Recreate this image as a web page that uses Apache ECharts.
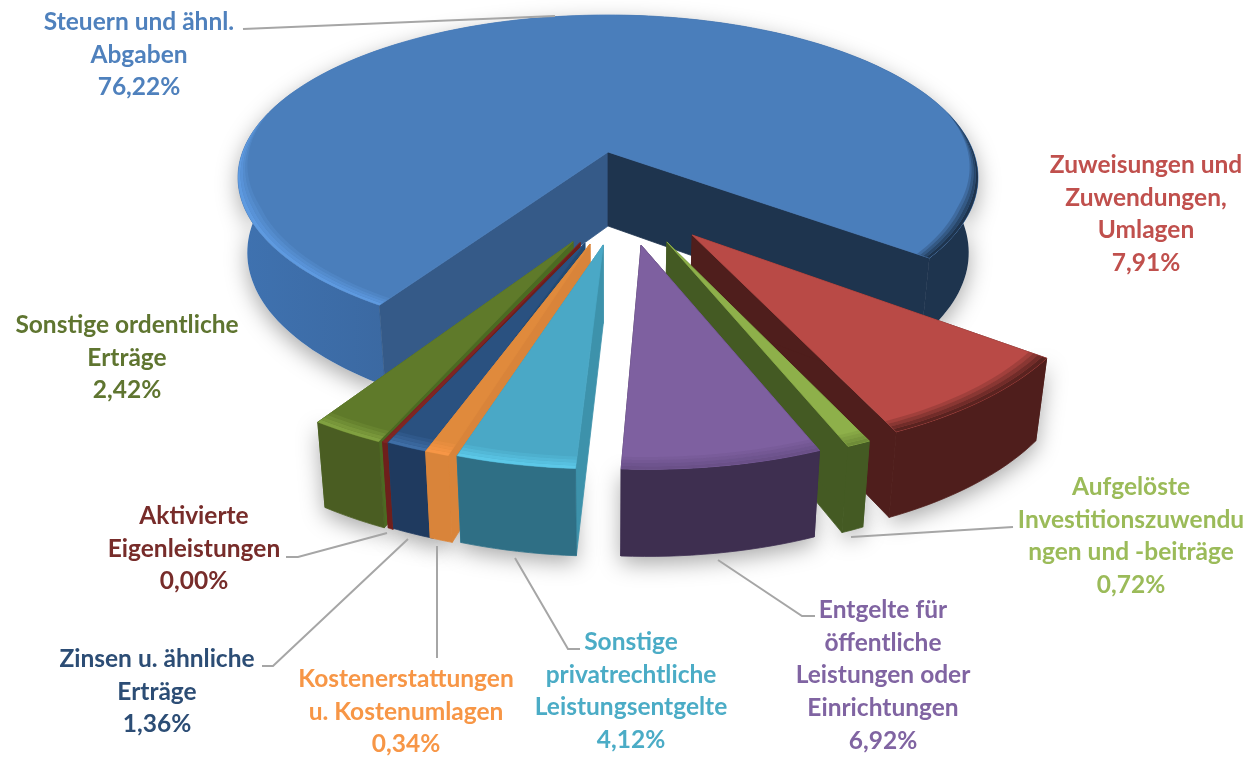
<!DOCTYPE html>
<html><head><meta charset="utf-8">
<style>html,body{margin:0;padding:0;background:#fff}#c{width:1260px;height:758px}</style>
<script src="https://cdn.jsdelivr.net/npm/echarts@6/dist/echarts.min.js"></script>
</head><body><div id="c"></div>
<script>
// ---- data ----
const categories = ["Steuern und ähnl.\nAbgaben","Zuweisungen und\nZuwendungen,\nUmlagen","Aufgelöste\nInvestitionszuwendu\nngen und -beiträge","Entgelte für\nöffentliche\nLeistungen oder\nEinrichtungen","Sonstige\nprivatrechtliche\nLeistungsentgelte","Kostenerstattungen\nu. Kostenumlagen","Zinsen u. ähnliche\nErträge","Aktivierte\nEigenleistungen","Sonstige ordentliche\nErträge"];
const values = [76.22,7.91,0.72,6.92,4.12,0.34,1.36,0.00,2.42];
// ---- styling and layout ----
const topColors  = ["#4a7ebb","#b94a46","#8eb04a","#7e60a0","#4aa8c6","#e08a3c","#2a5180","#7f2623","#5f7a2a"];
const wallColors = ["#3e70ad","#4f1e1c","#445a23","#3e2f50","#2f6f85","#d9843a","#1f3a5f","#6e1f1c","#4a5d22"];
const sideColors = ["#355a88","#4f1e1c","#445a23","#3e2f50","#3d92ab","#d9843a","#234a73","#6e1f1c","#4c6a22"];
const rimColors  = ["#5e9ae0","#5a2320","#6f8c38","#6a5088","#5cc8e8","#f79646","#3f6ea6","#7f2623","#80a040"];
const labelColors= ["#4f81bd","#c0504d","#9bbb59","#8064a2","#4bacc6","#f79646","#2c4d75","#772c2a","#5f7530"];
const explodeU = [0,.213,.148,.083,-.012,-.045,-.058,-.07,-.088];
const explodeV = [0,.484,.521,.538,.537,.532,.527,.525,.52];
const minSpanDeg = [0,0,3,0,0,3,5.6,.7,9.2];
const radius = [1,.985,.985,.985,.985,.985,.985,.985,.985];
const drawOrder = [0,1,2,3,8,7,6,5,4];
const labelX = [139,1146,1131,883,631,406,157,194,127];
const labelY = [6,149,471,594,626,663,643,500,309];
const leaders = [
 [[243,29],[555,16]],
 [[851,537],[1013,527]],
 [[718,560],[802,616],[815,616]],
 [[515,558],[568,649],[580,649]],
 [[437,546],[437,658]],
 [[408,539],[273,666],[262,666]],
 [[387,533],[298,557],[286,557]]
];
const startDeg = 122.9;
const CX=608, CY=152, A=365.4, B=158.5, K=.157, D=74, SHRINK=.025;

function project(u,v,h){
  const s=1/(1-K*v);
  return [CX+A*u*s*(1-SHRINK*h), CY+B*v*s+D*h*Math.pow(s,.6)];
}
const rad=d=>d*Math.PI/180;
function arc(i,a0,a1,r,h,rf){
  const pts=[],n=Math.max(4,Math.ceil(Math.abs(a1-a0)/1.5));
  for(let j=0;j<=n;j++){
    const f=j/n,t=rad(a0+(a1-a0)*f),rr=rf?rf(a0+(a1-a0)*f):r;
    pts.push(project(explodeU[i]+rr*Math.cos(t),explodeV[i]+rr*Math.sin(t),h));
  }
  return pts;
}
const total=values.reduce((a,b)=>a+b,0);
const angles=[];
(function(){let c=startDeg;values.forEach((v,i)=>{const sp=v/total*360;const m=Math.max(sp,minSpanDeg[i]);const mid=c+sp/2;angles.push([mid-m/2,mid+m/2]);c+=sp;});})();

function poly(points,fill,extra,noStroke){
  const st=Object.assign({fill:fill,lineJoin:'round'},noStroke?{stroke:null}:{stroke:fill,lineWidth:.8},extra||{});
  return {type:'polygon',shape:{points:points},style:st,silent:true};
}
function hGrad(x0,x1,stops){
  return {type:'linear',x:x0,y:0,x2:x1,y2:0,global:true,colorStops:stops};
}
function wallPoly(i,a0,a1){
  const r=radius[i];
  return arc(i,a0,a1,r,0).concat(arc(i,a1,a0,r,1));
}
// soft bevel along the outer edge; wf(angle) gives the local width factor
function rim(i,a0,a1,color,w,wf){
  const out=[],r=radius[i];
  const wid=wf||function(){return 1;};
  [[1,.75,.25],[.75,.5,.5],[.5,.25,.75],[.25,0,1]].forEach(function(b){
    const inner=function(a){return r-w*b[0]*wid(a);},outer=function(a){return r-w*b[1]*wid(a);};
    out.push(poly(arc(i,a0,a1,r,0,inner).concat(arc(i,a1,a0,r,0,outer)),color,{opacity:b[2]},true));
  });
  return out;
}
function renderSlice(params,api){
  const i=api.value(0);
  const a0=angles[i][0],a1=angles[i][1],r=radius[i];
  const kids=[];
  const apex=project(explodeU[i],explodeV[i],0),apexB=project(explodeU[i],explodeV[i],1);
  const c0=arc(i,a0,a0,r,0)[0],c0B=arc(i,a0,a0,r,1)[0];
  const c1=arc(i,a1,a1,r,0)[0],c1B=arc(i,a1,a1,r,1)[0];
  if(i===0){
    kids.push(poly(wallPoly(0,a0,a1),hGrad(CX-370,CX+370,[
      {offset:0,color:'#3f72b0'},{offset:.2,color:'#3b69a2'},{offset:.5,color:'#2b4f78'},{offset:.58,color:'#1e344e'},{offset:1,color:'#1e344e'}]),{stroke:null}));
    kids.push(poly([apex,c0,c0B,apexB],'#355a88'));
    kids.push(poly([apex,c1,c1B,apexB],'#1e344e'));
  }else{
    const wall=wallColors[i];
    kids.push(poly([apex,c1,c1B,apexB],sideColors[i]));
    kids.push(poly([apex,c0,c0B,apexB],sideColors[i]));
    kids.push(poly(wallPoly(i,a0,a1),wall));
  }
  kids.push(poly([apex].concat(arc(i,a0,a1,r,0)),topColors[i]));
  if(i===0){
    rim(0,a0,195,rimColors[0],.04,function(a){return Math.min(1,(195-a)/35);}).forEach(function(e){kids.push(e);});
    rim(0,345,a1,'#1e344e',.035,function(a){return Math.min(1,(a-345)/35);}).forEach(function(e){kids.push(e);});
  }else{
    rim(i,a0,a1,rimColors[i],.045).forEach(function(e){kids.push(e);});
  }
  return {type:'group',children:kids};
}
function renderShadow(params,api){
  const i=api.value(0);
  return poly(wallPoly(i,angles[i][0],angles[i][1]),'#ffffff',{stroke:null,shadowBlur:22,shadowColor:'rgba(0,0,0,.34)',shadowOffsetX:0,shadowOffsetY:7});
}
function fmt(v){return v.toFixed(2).replace('.',',')+'%';}
const sliceData=drawOrder.map(function(i){return [i,values[i]];});
const graphics=[];
leaders.forEach(function(l){
  graphics.push({type:'polyline',z:5,shape:{points:l},style:{stroke:'#a6a6a6',lineWidth:2,fill:null},silent:true});
});
categories.forEach(function(n,i){
  graphics.push({type:'text',z:6,x:labelX[i],y:labelY[i],style:{text:n+"\n"+fmt(values[i]),fill:labelColors[i],font:'bold 24.5px Lato',textAlign:'center',textVerticalAlign:'top',lineHeight:32.6}});
});
const chart=echarts.init(document.getElementById('c'),null,{renderer:'canvas'});
chart.setOption({
  animation:false,
  backgroundColor:'#ffffff',
  graphic:{elements:graphics},
  series:[
    {type:'custom',coordinateSystem:'none',renderItem:renderShadow,data:sliceData,z:1,silent:true,clip:false},
    {type:'custom',coordinateSystem:'none',renderItem:renderSlice,data:sliceData,z:2,silent:true,clip:false}
  ]
});
</script></body></html>
